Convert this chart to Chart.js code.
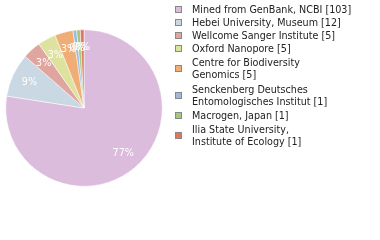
<!DOCTYPE html>
<html>
<head>
<meta charset="utf-8">
<script src="https://cdn.jsdelivr.net/npm/chart.js@4"></script>
<style>
  body { margin: 0; background: #fff; }
  #wrap { position: relative; width: 380px; height: 240px; }
  #legend { position: absolute; left: 175px; top: 3px; font-family: "DejaVu Sans", sans-serif; font-size: 9.6px; color: #222; }
  .item { display: flex; align-items: center; line-height: 12px; padding: 0.5px 0; }
  .item.multi { padding: 1.5px 0; }
  .box { width: 5px; height: 5px; border: 1px solid #888; margin-right: 10px; flex: none; }
</style>
</head>
<body>
<div id="wrap">
  <canvas id="pieChart" width="380" height="240"></canvas>
  <div id="legend"></div>
</div>
<script>
// datos
const labels = ['Mined from GenBank, NCBI', 'Hebei University, Museum', 'Wellcome Sanger Institute', 'Oxford Nanopore',
  'Centre for Biodiversity Genomics', 'Senckenberg Deutsches Entomologisches Institut', 'Macrogen, Japan',
  'Ilia State University, Institute of Ecology'];
const legendLines = [
  ['Mined from GenBank, NCBI [103]'],
  ['Hebei University, Museum [12]'],
  ['Wellcome Sanger Institute [5]'],
  ['Oxford Nanopore [5]'],
  ['Centre for Biodiversity', 'Genomics [5]'],
  ['Senckenberg Deutsches', 'Entomologisches Institut [1]'],
  ['Macrogen, Japan [1]'],
  ['Ilia State University,', 'Institute of Ecology [1]']
];
const counts = [103, 12, 5, 5, 5, 1, 1, 1];
const colors = ['#dcbcdd', '#c9d8e3', '#e0a59e', '#dde29e', '#f0ad76', '#9ab9db', '#a2c87e', '#e0765b'];

const total = counts.reduce((a, b) => a + b, 0);

// etiquetas de porcentaje dentro de cada sector
const pctLabels = {
  id: 'pctLabels',
  afterDatasetsDraw(chart) {
    const c = chart.ctx;
    const meta = chart.getDatasetMeta(0);
    c.save();
    c.fillStyle = '#fff';
    c.font = '9.6px "DejaVu Sans"';
    c.textAlign = 'center';
    c.textBaseline = 'middle';
    meta.data.forEach((arc, i) => {
      const p = arc.getProps(['x', 'y', 'startAngle', 'endAngle', 'outerRadius'], true);
      const mid = (p.startAngle + p.endAngle) / 2;
      const r = p.outerRadius * 0.77;
      const txt = Math.floor(counts[i] / total * 100) + '%';
      c.fillText(txt, p.x + Math.cos(mid) * r, p.y + Math.sin(mid) * r);
    });
    c.restore();
  }
};

const ctx = document.getElementById('pieChart').getContext('2d');
const pieChart = new Chart(ctx, {
  type: 'pie',
  data: {
    labels: labels,
    datasets: [{
      data: counts,
      backgroundColor: colors,
      borderColor: '#fff',
      borderWidth: 0.5,
      hoverBorderWidth: 0.5
    }]
  },
  options: {
    responsive: false,
    animation: false,
    layout: { padding: { left: 5.5, top: 29.5, right: 217.5, bottom: 53.5 } },
    plugins: {
      legend: { display: false },
      tooltip: { enabled: false }
    }
  },
  plugins: [pctLabels]
});

// leyenda
const legend = document.getElementById('legend');
legendLines.forEach((lines, i) => {
  const item = document.createElement('div');
  item.className = 'item' + (lines.length > 1 ? ' multi' : '');
  const box = document.createElement('span');
  box.className = 'box';
  box.style.background = colors[i];
  const txt = document.createElement('span');
  txt.innerHTML = lines.join('<br>');
  item.appendChild(box);
  item.appendChild(txt);
  legend.appendChild(item);
});
</script>
</body>
</html>
